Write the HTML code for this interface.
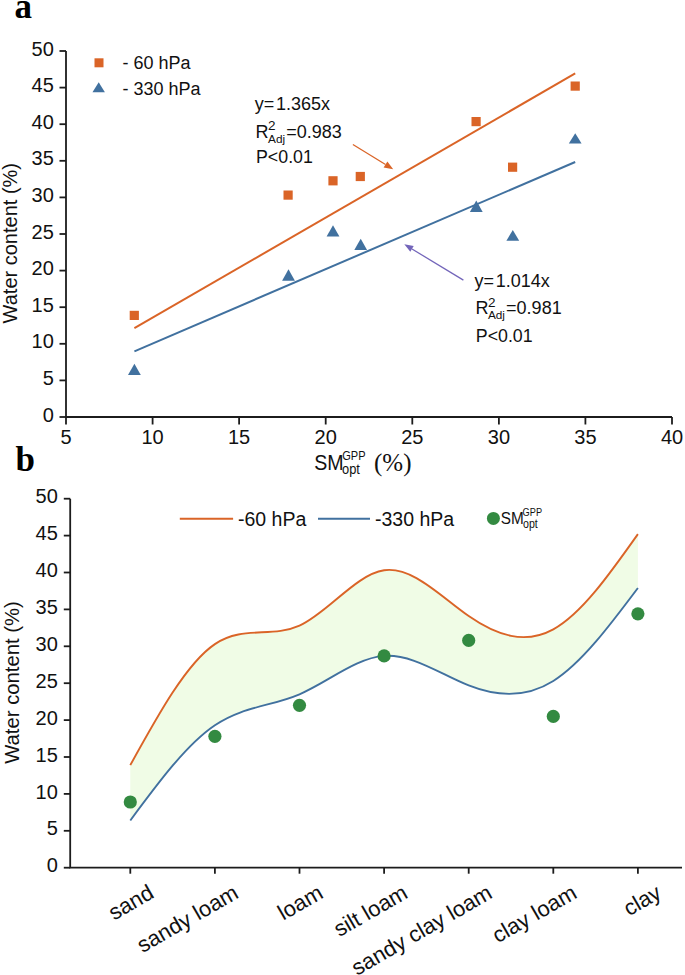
<!DOCTYPE html>
<html><head><meta charset="utf-8"><style>html,body{margin:0;padding:0;background:#fff;}svg{display:block;}</style></head>
<body><svg width="685" height="975" viewBox="0 0 685 975">
<rect width="685" height="975" fill="#fff"/>
<text x="14.6" y="18.3" font-family="Liberation Serif, serif" font-weight="bold" font-size="35" fill="#000">a</text>
<path d="M66 51.0V417H671.99" fill="none" stroke="#1c1c1c" stroke-width="1.8"/>
<line x1="59.5" y1="417.0" x2="66" y2="417.0" stroke="#1c1c1c" stroke-width="1.8"/>
<text x="53.8" y="421.6" font-family="Liberation Sans, sans-serif" font-size="20" text-anchor="end" fill="#111">0</text>
<line x1="59.5" y1="380.4" x2="66" y2="380.4" stroke="#1c1c1c" stroke-width="1.8"/>
<text x="53.8" y="385.0" font-family="Liberation Sans, sans-serif" font-size="20" text-anchor="end" fill="#111">5</text>
<line x1="59.5" y1="343.8" x2="66" y2="343.8" stroke="#1c1c1c" stroke-width="1.8"/>
<text x="53.8" y="348.4" font-family="Liberation Sans, sans-serif" font-size="20" text-anchor="end" fill="#111">10</text>
<line x1="59.5" y1="307.2" x2="66" y2="307.2" stroke="#1c1c1c" stroke-width="1.8"/>
<text x="53.8" y="311.8" font-family="Liberation Sans, sans-serif" font-size="20" text-anchor="end" fill="#111">15</text>
<line x1="59.5" y1="270.6" x2="66" y2="270.6" stroke="#1c1c1c" stroke-width="1.8"/>
<text x="53.8" y="275.2" font-family="Liberation Sans, sans-serif" font-size="20" text-anchor="end" fill="#111">20</text>
<line x1="59.5" y1="234.0" x2="66" y2="234.0" stroke="#1c1c1c" stroke-width="1.8"/>
<text x="53.8" y="238.6" font-family="Liberation Sans, sans-serif" font-size="20" text-anchor="end" fill="#111">25</text>
<line x1="59.5" y1="197.4" x2="66" y2="197.4" stroke="#1c1c1c" stroke-width="1.8"/>
<text x="53.8" y="202.0" font-family="Liberation Sans, sans-serif" font-size="20" text-anchor="end" fill="#111">30</text>
<line x1="59.5" y1="160.8" x2="66" y2="160.8" stroke="#1c1c1c" stroke-width="1.8"/>
<text x="53.8" y="165.4" font-family="Liberation Sans, sans-serif" font-size="20" text-anchor="end" fill="#111">35</text>
<line x1="59.5" y1="124.2" x2="66" y2="124.2" stroke="#1c1c1c" stroke-width="1.8"/>
<text x="53.8" y="128.8" font-family="Liberation Sans, sans-serif" font-size="20" text-anchor="end" fill="#111">40</text>
<line x1="59.5" y1="87.6" x2="66" y2="87.6" stroke="#1c1c1c" stroke-width="1.8"/>
<text x="53.8" y="92.2" font-family="Liberation Sans, sans-serif" font-size="20" text-anchor="end" fill="#111">45</text>
<line x1="59.5" y1="51.0" x2="66" y2="51.0" stroke="#1c1c1c" stroke-width="1.8"/>
<text x="53.8" y="55.6" font-family="Liberation Sans, sans-serif" font-size="20" text-anchor="end" fill="#111">50</text>
<line x1="66.0" y1="417" x2="66.0" y2="424.5" stroke="#1c1c1c" stroke-width="1.8"/>
<text x="66.0" y="443.9" font-family="Liberation Sans, sans-serif" font-size="20" text-anchor="middle" fill="#111">5</text>
<line x1="152.6" y1="417" x2="152.6" y2="424.5" stroke="#1c1c1c" stroke-width="1.8"/>
<text x="152.6" y="443.9" font-family="Liberation Sans, sans-serif" font-size="20" text-anchor="middle" fill="#111">10</text>
<line x1="239.1" y1="417" x2="239.1" y2="424.5" stroke="#1c1c1c" stroke-width="1.8"/>
<text x="239.1" y="443.9" font-family="Liberation Sans, sans-serif" font-size="20" text-anchor="middle" fill="#111">15</text>
<line x1="325.7" y1="417" x2="325.7" y2="424.5" stroke="#1c1c1c" stroke-width="1.8"/>
<text x="325.7" y="443.9" font-family="Liberation Sans, sans-serif" font-size="20" text-anchor="middle" fill="#111">20</text>
<line x1="412.3" y1="417" x2="412.3" y2="424.5" stroke="#1c1c1c" stroke-width="1.8"/>
<text x="412.3" y="443.9" font-family="Liberation Sans, sans-serif" font-size="20" text-anchor="middle" fill="#111">25</text>
<line x1="498.9" y1="417" x2="498.9" y2="424.5" stroke="#1c1c1c" stroke-width="1.8"/>
<text x="498.9" y="443.9" font-family="Liberation Sans, sans-serif" font-size="20" text-anchor="middle" fill="#111">30</text>
<line x1="585.4" y1="417" x2="585.4" y2="424.5" stroke="#1c1c1c" stroke-width="1.8"/>
<text x="585.4" y="443.9" font-family="Liberation Sans, sans-serif" font-size="20" text-anchor="middle" fill="#111">35</text>
<line x1="672.0" y1="417" x2="672.0" y2="424.5" stroke="#1c1c1c" stroke-width="1.8"/>
<text x="672.0" y="443.9" font-family="Liberation Sans, sans-serif" font-size="20" text-anchor="middle" fill="#111">40</text>
<text transform="translate(16.8 243.2) rotate(-90)" font-family="Liberation Sans, sans-serif" font-size="20" text-anchor="middle" fill="#111">Water content (%)</text>
<text font-family="Liberation Sans, sans-serif" font-size="22.4" fill="#111" transform="translate(314.2 470.3) scale(0.876 1)">SM</text>
<text font-family="Liberation Sans, sans-serif" font-size="12" fill="#111" transform="translate(342.2 459.6) scale(0.92 1)">GPP</text>
<text font-family="Liberation Sans, sans-serif" font-size="14" fill="#111" transform="translate(342 474.3) scale(0.92 1)">opt</text>
<text x="374" y="470.5" font-family="Liberation Serif, serif" font-size="25" fill="#111">(%)</text>
<line x1="134.4" y1="328.2" x2="575.2" y2="73.4" stroke="#DA6427" stroke-width="2"/>
<line x1="134.4" y1="351.3" x2="575.2" y2="162" stroke="#41719F" stroke-width="2"/>
<rect x="129.7" y="310.8" width="9.2" height="9.2" fill="#DA6427"/>
<rect x="283.5" y="190.5" width="9.2" height="9.2" fill="#DA6427"/>
<rect x="328.4" y="176.2" width="9.2" height="9.2" fill="#DA6427"/>
<rect x="355.7" y="171.9" width="9.2" height="9.2" fill="#DA6427"/>
<rect x="471.5" y="117.0" width="9.2" height="9.2" fill="#DA6427"/>
<rect x="508.0" y="162.6" width="9.2" height="9.2" fill="#DA6427"/>
<rect x="570.6" y="81.5" width="9.2" height="9.2" fill="#DA6427"/>
<path d="M134.4 363.8L140.8 375.0H128.0Z" fill="#41719F"/>
<path d="M288.5 269.3L294.9 280.8H282.1Z" fill="#41719F"/>
<path d="M333.0 225.3L339.4 236.5H326.6Z" fill="#41719F"/>
<path d="M360.7 238.8L367.1 250.1H354.3Z" fill="#41719F"/>
<path d="M476.3 200.6L482.7 211.9H469.9Z" fill="#41719F"/>
<path d="M512.8 230.0L519.2 240.7H506.4Z" fill="#41719F"/>
<path d="M575.2 133.2L581.6 143.5H568.8Z" fill="#41719F"/>
<rect x="94.5" y="58.3" width="9" height="9" fill="#DA6427"/>
<text x="122.5" y="68.9" font-family="Liberation Sans, sans-serif" font-size="18" fill="#111">- 60 hPa</text>
<path d="M98.7 82.3L104.9 92.3H92.5Z" fill="#41719F"/>
<text x="122.5" y="94.6" font-family="Liberation Sans, sans-serif" font-size="18" fill="#111">- 330 hPa</text>
<text x="254.8" y="109.7" font-family="Liberation Sans, sans-serif" font-size="18" fill="#111">y=<tspan dx="1.6">1.365x</tspan></text>
<text x="255.60000000000002" y="137.5" font-family="Liberation Sans, sans-serif" font-size="18" fill="#111">R</text>
<text x="268.1" y="129.9" font-family="Liberation Sans, sans-serif" font-size="13.5" fill="#111">2</text>
<text x="268.1" y="142.5" font-family="Liberation Sans, sans-serif" font-size="11.8" fill="#111">Adj</text>
<text x="286.3" y="137.5" font-family="Liberation Sans, sans-serif" font-size="18" fill="#111">=0.983</text>
<text x="256.0" y="163.4" font-family="Liberation Sans, sans-serif" font-size="17.8" fill="#111">P&lt;0.01</text>
<text x="474.6" y="286.6" font-family="Liberation Sans, sans-serif" font-size="18" fill="#111">y=<tspan dx="1.6">1.014x</tspan></text>
<text x="475.40000000000003" y="314.40000000000003" font-family="Liberation Sans, sans-serif" font-size="18" fill="#111">R</text>
<text x="487.90000000000003" y="306.8" font-family="Liberation Sans, sans-serif" font-size="13.5" fill="#111">2</text>
<text x="487.90000000000003" y="319.40000000000003" font-family="Liberation Sans, sans-serif" font-size="11.8" fill="#111">Adj</text>
<text x="506.1" y="314.40000000000003" font-family="Liberation Sans, sans-serif" font-size="18" fill="#111">=0.981</text>
<text x="475.8" y="342.1" font-family="Liberation Sans, sans-serif" font-size="17.8" fill="#111">P&lt;0.01</text>
<line x1="352.9" y1="144.5" x2="385.5" y2="164.5" stroke="#DA6427" stroke-width="1.25"/>
<path d="M393.2 169.2L383.6 167.6L387.4 161.4Z" fill="#DA6427"/>
<line x1="463.4" y1="280.1" x2="412.0" y2="249.0" stroke="#7365BA" stroke-width="1.25"/>
<path d="M404.3 244.3L413.7 246.1L410.3 251.8Z" fill="#7365BA"/>
<text x="15.6" y="470.8" font-family="Liberation Serif, serif" font-weight="bold" font-size="35" fill="#000">b</text>
<path d="M130.30 765.12C158.50 714.07 186.70 663.02 214.90 644.09C243.10 625.15 271.30 638.32 299.50 625.64C327.70 612.96 355.90 574.43 384.10 570.29C412.30 566.15 440.50 596.39 468.70 616.04C496.90 635.69 525.10 644.75 553.30 629.33C581.50 613.91 609.70 574.02 637.90 534.12L637.90 588.00C609.70 625.62 581.50 663.23 553.30 680.99C525.10 698.74 496.90 696.62 468.70 685.41C440.50 674.20 412.30 653.90 384.10 655.89C355.90 657.89 327.70 682.18 299.50 694.27C271.30 706.36 243.10 706.27 214.90 725.27C186.70 744.27 158.50 782.37 130.30 820.47Z" fill="#F0FCE6"/>
<path d="M130.30 765.12C158.50 714.07 186.70 663.02 214.90 644.09C243.10 625.15 271.30 638.32 299.50 625.64C327.70 612.96 355.90 574.43 384.10 570.29C412.30 566.15 440.50 596.39 468.70 616.04C496.90 635.69 525.10 644.75 553.30 629.33C581.50 613.91 609.70 574.02 637.90 534.12" fill="none" stroke="#DA6427" stroke-width="1.9"/>
<path d="M130.30 820.47C158.50 782.37 186.70 744.27 214.90 725.27C243.10 706.27 271.30 706.36 299.50 694.27C327.70 682.18 355.90 657.89 384.10 655.89C412.30 653.90 440.50 674.20 468.70 685.41C496.90 696.62 525.10 698.74 553.30 680.99C581.50 663.23 609.70 625.62 637.90 588.00" fill="none" stroke="#41719F" stroke-width="1.9"/>
<circle cx="130.3" cy="802.0" r="6.6" fill="#338A41"/>
<circle cx="214.9" cy="736.3" r="6.6" fill="#338A41"/>
<circle cx="299.5" cy="705.3" r="6.6" fill="#338A41"/>
<circle cx="384.1" cy="655.9" r="6.6" fill="#338A41"/>
<circle cx="468.7" cy="640.4" r="6.6" fill="#338A41"/>
<circle cx="553.3" cy="716.4" r="6.6" fill="#338A41"/>
<circle cx="637.9" cy="613.8" r="6.6" fill="#338A41"/>
<path d="M70.2 498.7V867.7H682" fill="none" stroke="#1c1c1c" stroke-width="1.8"/>
<line x1="63.8" y1="867.7" x2="70.2" y2="867.7" stroke="#1c1c1c" stroke-width="1.8"/>
<text x="57.8" y="872.3" font-family="Liberation Sans, sans-serif" font-size="20" text-anchor="end" fill="#111">0</text>
<line x1="63.8" y1="830.8" x2="70.2" y2="830.8" stroke="#1c1c1c" stroke-width="1.8"/>
<text x="57.8" y="835.4" font-family="Liberation Sans, sans-serif" font-size="20" text-anchor="end" fill="#111">5</text>
<line x1="63.8" y1="793.9" x2="70.2" y2="793.9" stroke="#1c1c1c" stroke-width="1.8"/>
<text x="57.8" y="798.5" font-family="Liberation Sans, sans-serif" font-size="20" text-anchor="end" fill="#111">10</text>
<line x1="63.8" y1="757.0" x2="70.2" y2="757.0" stroke="#1c1c1c" stroke-width="1.8"/>
<text x="57.8" y="761.6" font-family="Liberation Sans, sans-serif" font-size="20" text-anchor="end" fill="#111">15</text>
<line x1="63.8" y1="720.1" x2="70.2" y2="720.1" stroke="#1c1c1c" stroke-width="1.8"/>
<text x="57.8" y="724.7" font-family="Liberation Sans, sans-serif" font-size="20" text-anchor="end" fill="#111">20</text>
<line x1="63.8" y1="683.2" x2="70.2" y2="683.2" stroke="#1c1c1c" stroke-width="1.8"/>
<text x="57.8" y="687.8" font-family="Liberation Sans, sans-serif" font-size="20" text-anchor="end" fill="#111">25</text>
<line x1="63.8" y1="646.3" x2="70.2" y2="646.3" stroke="#1c1c1c" stroke-width="1.8"/>
<text x="57.8" y="650.9" font-family="Liberation Sans, sans-serif" font-size="20" text-anchor="end" fill="#111">30</text>
<line x1="63.8" y1="609.4" x2="70.2" y2="609.4" stroke="#1c1c1c" stroke-width="1.8"/>
<text x="57.8" y="614.0" font-family="Liberation Sans, sans-serif" font-size="20" text-anchor="end" fill="#111">35</text>
<line x1="63.8" y1="572.5" x2="70.2" y2="572.5" stroke="#1c1c1c" stroke-width="1.8"/>
<text x="57.8" y="577.1" font-family="Liberation Sans, sans-serif" font-size="20" text-anchor="end" fill="#111">40</text>
<line x1="63.8" y1="535.6" x2="70.2" y2="535.6" stroke="#1c1c1c" stroke-width="1.8"/>
<text x="57.8" y="540.2" font-family="Liberation Sans, sans-serif" font-size="20" text-anchor="end" fill="#111">45</text>
<line x1="63.8" y1="498.7" x2="70.2" y2="498.7" stroke="#1c1c1c" stroke-width="1.8"/>
<text x="57.8" y="503.3" font-family="Liberation Sans, sans-serif" font-size="20" text-anchor="end" fill="#111">50</text>
<line x1="130.3" y1="867.7" x2="130.3" y2="873.7" stroke="#1c1c1c" stroke-width="1.8"/>
<text transform="translate(155.3 897) rotate(-30)" font-family="Liberation Sans, sans-serif" font-size="22" text-anchor="end" fill="#111">sand</text>
<line x1="214.9" y1="867.7" x2="214.9" y2="873.7" stroke="#1c1c1c" stroke-width="1.8"/>
<text transform="translate(239.9 897) rotate(-30)" font-family="Liberation Sans, sans-serif" font-size="22" text-anchor="end" fill="#111">sandy loam</text>
<line x1="299.5" y1="867.7" x2="299.5" y2="873.7" stroke="#1c1c1c" stroke-width="1.8"/>
<text transform="translate(324.5 897) rotate(-30)" font-family="Liberation Sans, sans-serif" font-size="22" text-anchor="end" fill="#111">loam</text>
<line x1="384.1" y1="867.7" x2="384.1" y2="873.7" stroke="#1c1c1c" stroke-width="1.8"/>
<text transform="translate(409.1 897) rotate(-30)" font-family="Liberation Sans, sans-serif" font-size="22" text-anchor="end" fill="#111">silt loam</text>
<line x1="468.7" y1="867.7" x2="468.7" y2="873.7" stroke="#1c1c1c" stroke-width="1.8"/>
<text transform="translate(493.7 897) rotate(-30)" font-family="Liberation Sans, sans-serif" font-size="22" text-anchor="end" fill="#111">sandy clay loam</text>
<line x1="553.3" y1="867.7" x2="553.3" y2="873.7" stroke="#1c1c1c" stroke-width="1.8"/>
<text transform="translate(578.3 897) rotate(-30)" font-family="Liberation Sans, sans-serif" font-size="22" text-anchor="end" fill="#111">clay loam</text>
<line x1="637.9" y1="867.7" x2="637.9" y2="873.7" stroke="#1c1c1c" stroke-width="1.8"/>
<text transform="translate(662.9 897) rotate(-30)" font-family="Liberation Sans, sans-serif" font-size="22" text-anchor="end" fill="#111">clay</text>
<text transform="translate(18.7 682.5) rotate(-90)" font-family="Liberation Sans, sans-serif" font-size="20.3" text-anchor="middle" fill="#111">Water content (%)</text>
<line x1="179.8" y1="518.7" x2="233.1" y2="518.7" stroke="#DA6427" stroke-width="1.9"/>
<text x="238" y="526.4" font-family="Liberation Sans, sans-serif" font-size="19.5" fill="#111">-60 hPa</text>
<line x1="318" y1="518.7" x2="370" y2="518.7" stroke="#41719F" stroke-width="1.9"/>
<text x="375" y="526.4" font-family="Liberation Sans, sans-serif" font-size="19.5" fill="#111">-330 hPa</text>
<circle cx="493.4" cy="518.4" r="6.5" fill="#338A41"/>
<text font-family="Liberation Sans, sans-serif" font-size="17.2" fill="#111" transform="translate(500.8 524.1) scale(0.89 1)">SM</text>
<text font-family="Liberation Sans, sans-serif" font-size="11.5" fill="#111" transform="translate(522.6 516.4) scale(0.8 1)">GPP</text>
<text font-family="Liberation Sans, sans-serif" font-size="12.5" fill="#111" transform="translate(523 527.8) scale(0.85 1)">opt</text>
</svg></body></html>
